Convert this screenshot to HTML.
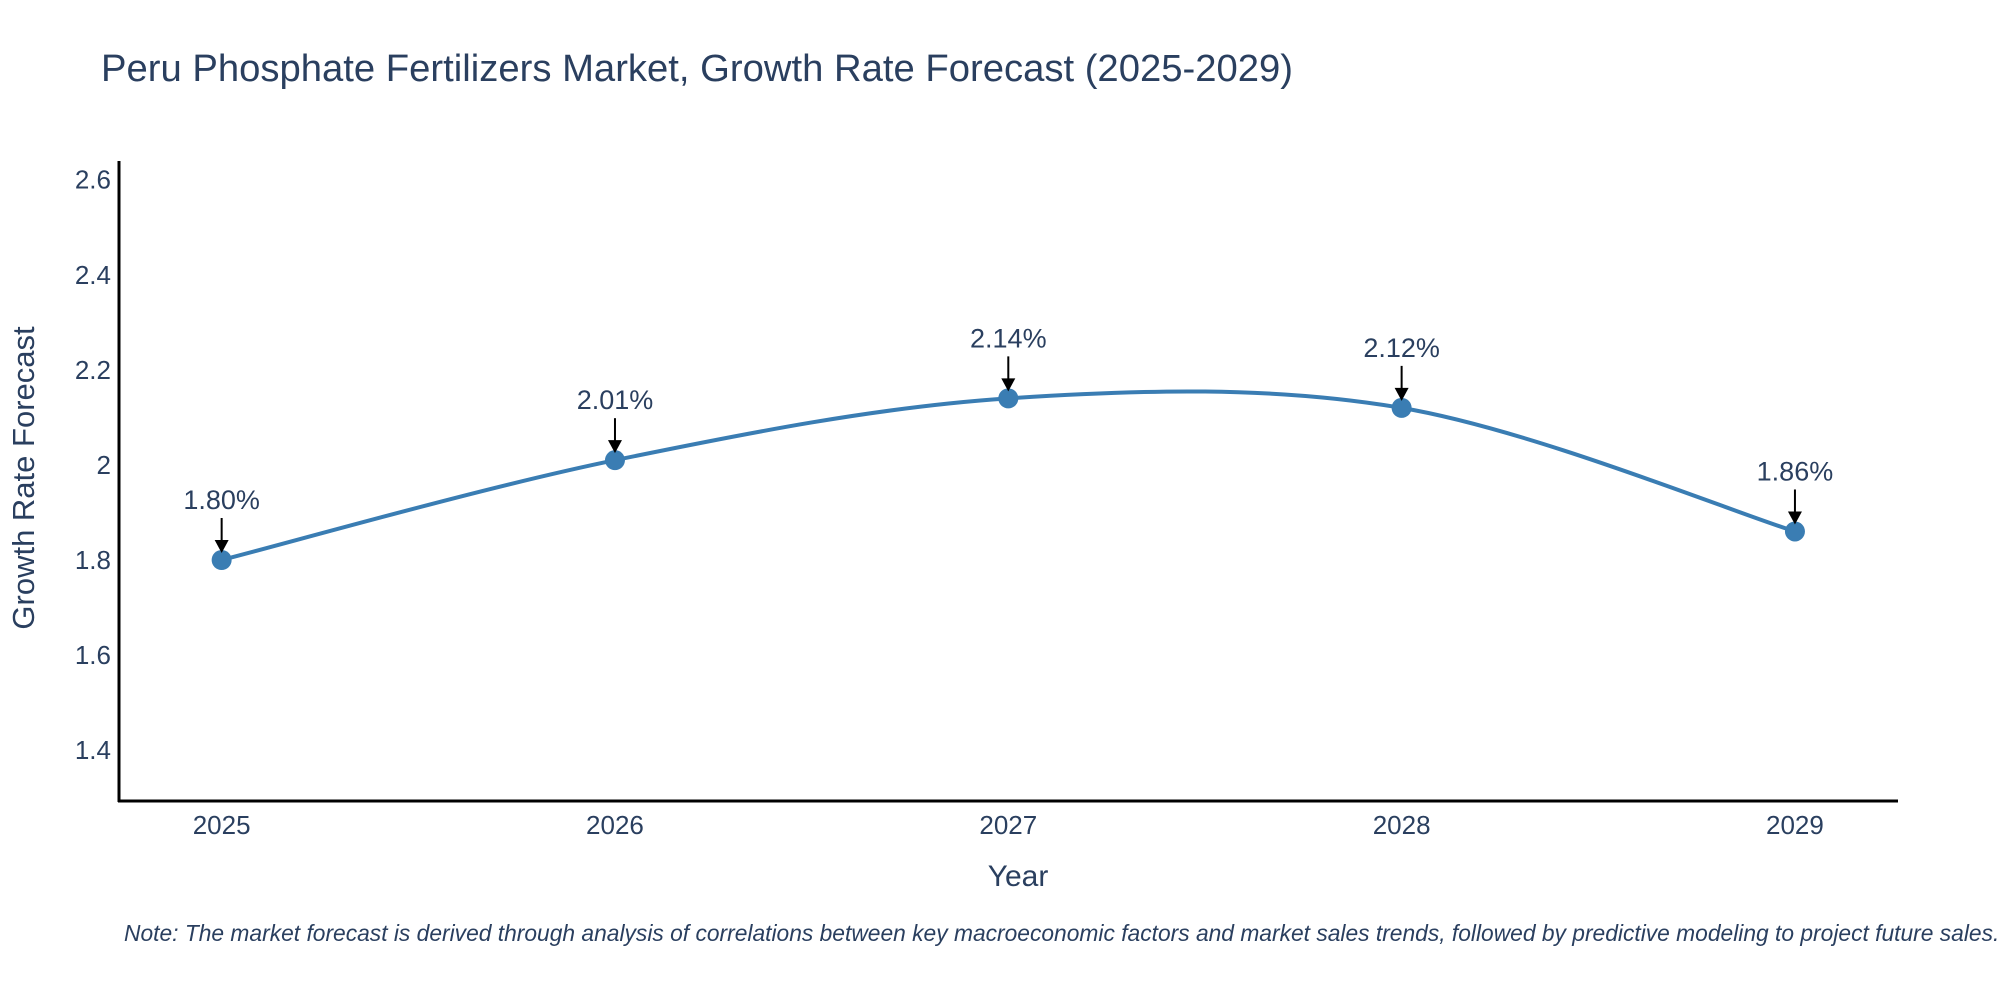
<!DOCTYPE html>
<html><head><meta charset="utf-8"><style>
body{margin:0;background:#fff;overflow:hidden;}
svg text{font-family:"Liberation Sans",sans-serif;fill:#2a3f5f;}
</style></head><body>
<svg id="chart" width="2000" height="1000" xmlns="http://www.w3.org/2000/svg">
<rect width="2000" height="1000" fill="#fff"/>
<text x="101" y="81" font-size="38" textLength="1192" lengthAdjust="spacingAndGlyphs">Peru Phosphate Fertilizers Market, Growth Rate Forecast (2025-2029)</text>
<g id="yticks"></g>
<g id="xticks"></g>
<line x1="119" y1="161" x2="119" y2="802" stroke="#000" stroke-width="3"/>
<line x1="118" y1="801" x2="1898" y2="801" stroke="#000" stroke-width="3"/>
<g id="series"></g>
<g id="annots"></g>
<text x="26" y="478" font-size="31" text-anchor="middle" transform="rotate(-90 26 478)" dominant-baseline="middle">Growth Rate Forecast</text>
<text x="1018" y="886" font-size="30" text-anchor="middle">Year</text>
<text x="124" y="941" font-size="22.8" font-style="italic">Note: The market forecast is derived through analysis of correlations between key macroeconomic factors and market sales trends, followed by predictive modeling to project future sales.</text>
</svg>
<script>
const years = [2025, 2026, 2027, 2028, 2029];
const values = [1.80, 2.01, 2.14, 2.12, 1.86];
const labels = ["1.80%", "2.01%", "2.14%", "2.12%", "1.86%"];
const yTicks = [1.4, 1.6, 1.8, 2.0, 2.2, 2.4, 2.6];
const yTickLabels = ["1.4", "1.6", "1.8", "2", "2.2", "2.4", "2.6"];

const NS = "http://www.w3.org/2000/svg";
const X0 = 118.6, X1 = 1898, Y0 = 801, Y1 = 160.7;
const xMin = 2024.738, xMax = 2029.262, yMin = 1.293, yMax = 2.64;
function xs(v){return X0 + (v - xMin) / (xMax - xMin) * (X1 - X0);}
function ys(v){return Y0 - (v - yMin) / (yMax - yMin) * (Y0 - Y1);}
function mk(tag, attrs, parent){const e=document.createElementNS(NS,tag);for(const k in attrs)e.setAttribute(k,attrs[k]);parent.appendChild(e);return e;}

const yg = document.getElementById('yticks');
yTicks.forEach((t,i)=>{
  const e = mk('text',{x:111,y:ys(t)+9,'font-size':26,'text-anchor':'end'},yg);
  
  
  e.textContent = yTickLabels[i];
});
const xg = document.getElementById('xticks');
years.forEach(y=>{
  const e = mk('text',{x:xs(y),y:834,'font-size':26,'text-anchor':'middle'},xg);
  
  
  e.textContent = String(y);
});

const pts = years.map((y,i)=>[xs(y), ys(values[i])]);
let d = `M${pts[0][0]},${pts[0][1]}`;
for(let i=0;i<pts.length-1;i++){
  const p0 = pts[Math.max(i-1,0)], p1 = pts[i], p2 = pts[i+1], p3 = pts[Math.min(i+2,pts.length-1)];
  const c1 = [p1[0]+(p2[0]-p0[0])/6, p1[1]+(p2[1]-p0[1])/6];
  const c2 = [p2[0]-(p3[0]-p1[0])/6, p2[1]-(p3[1]-p1[1])/6];
  d += ` C${c1[0]},${c1[1]} ${c2[0]},${c2[1]} ${p2[0]},${p2[1]}`;
}
const sg = document.getElementById('series');
const line = mk('path',{d:d,fill:'none',stroke:'#3a7db3','stroke-width':4},sg);


pts.forEach(p=>{
  const c = mk('circle',{cx:p[0],cy:p[1],r:10,fill:'#3a7db3'},sg);
  
  
});

const ag = document.getElementById('annots');
pts.forEach((p,i)=>{
  const l = mk('line',{x1:p[0],y1:p[1]-42,x2:p[0],y2:p[1]-18,stroke:'#000','stroke-width':2},ag);
  
  
  const h = mk('polygon',{points:`${p[0]-7},${p[1]-20} ${p[0]+7},${p[1]-20} ${p[0]},${p[1]-7}`,fill:'#000'},ag);
  
  
  const t = mk('text',{x:p[0],y:p[1]-51,'font-size':27,'text-anchor':'middle'},ag);
  
  
  t.textContent = labels[i];
});
</script>
</body></html>
